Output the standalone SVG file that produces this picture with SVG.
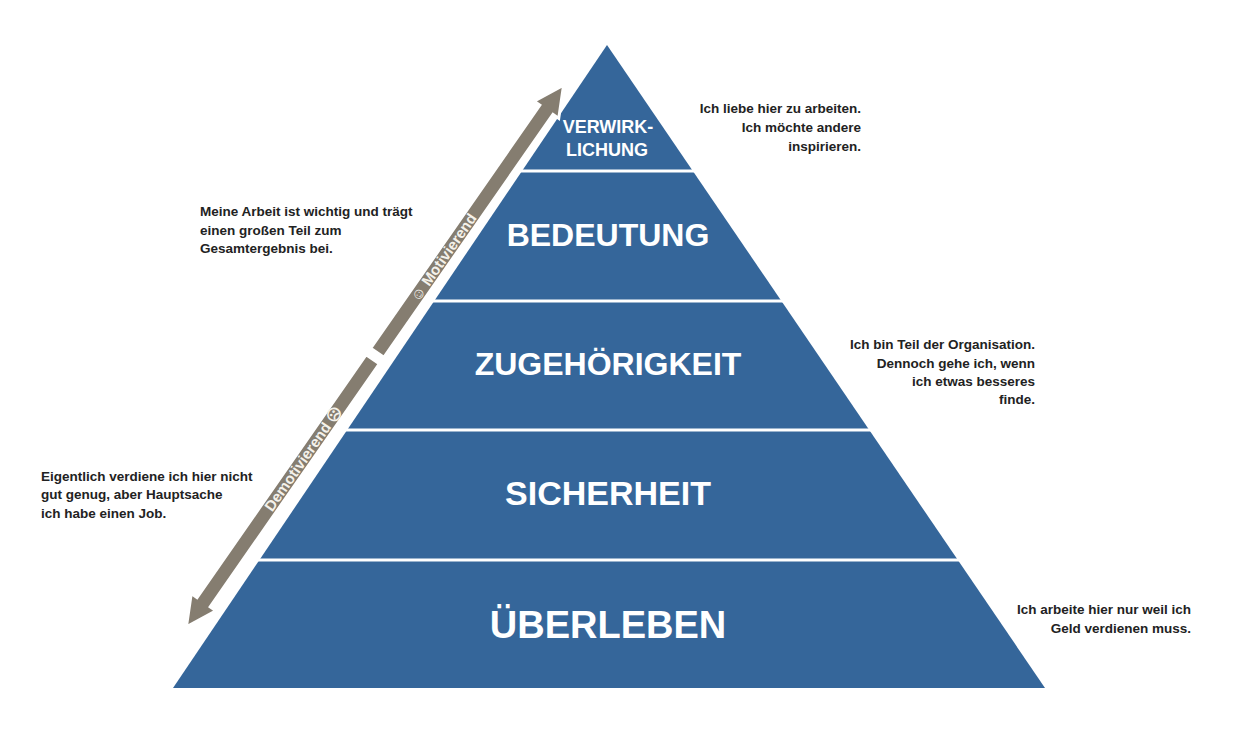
<svg xmlns="http://www.w3.org/2000/svg" width="1238" height="748" viewBox="0 0 1238 748">
<style>
.lay{fill:#35669a}
.sep{stroke:#fff;stroke-width:3}
.big{font-family:"Liberation Sans",Arial,sans-serif;font-weight:bold;fill:#fff;text-anchor:middle}
.note{font-family:"Liberation Sans",Arial,sans-serif;font-weight:bold;font-size:13.5px;fill:#222}
.r{text-anchor:end}
.arr{fill:#857d70;stroke:#fff;stroke-width:3}
.al{font-family:"Liberation Sans",Arial,sans-serif;font-weight:bold;font-size:15px;fill:#f4f1ea;text-anchor:middle}
</style>
<rect width="1238" height="748" fill="#fff"/>
<g id="pyramid">
<polygon class="lay" points="607,45 173,688 1045,688"/>
<line class="sep" x1="520" y1="171" x2="695" y2="171"/>
<line class="sep" x1="432" y1="301" x2="783" y2="301"/>
<line class="sep" x1="345" y1="430" x2="871" y2="430"/>
<line class="sep" x1="257" y1="560" x2="960" y2="560"/>
</g>
<g id="n-verwirklichung"><text class="big" x="608" y="133" font-size="18">VERWIRK-</text><text class="big" x="607" y="156" font-size="18">LICHUNG</text></g>
<g id="n-bedeutung"><text class="big" x="608" y="246" font-size="32">BEDEUTUNG</text></g>
<g id="n-zugehoerigkeit"><text class="big" x="608" y="375" font-size="32">ZUGEHÖRIGKEIT</text></g>
<g id="n-sicherheit"><text class="big" x="608" y="505" font-size="34">SICHERHEIT</text></g>
<g id="n-ueberleben"><text class="big" x="608" y="638" font-size="38">ÜBERLEBEN</text></g>
<g id="connectors">
<g transform="translate(375,356) rotate(-55.15)">
<polygon class="arr" points="4,-8 300,-8 300,-15 330,0 300,15 300,8 4,8"/>
<polygon class="arr" points="-4,-8 -300,-8 -300,-15 -330,0 -300,15 -300,8 -4,8"/>
<text class="al" x="120" y="5">☺ Motivierend</text>
<text class="al" x="-125" y="5">Demotivierend ☹</text>
</g>
</g>
<g id="notes">
<text class="note r" x="861" y="113">Ich liebe hier zu arbeiten.</text>
<text class="note r" x="861" y="132">Ich möchte andere</text>
<text class="note r" x="861" y="151">inspirieren.</text>
<text class="note" x="200" y="216">Meine Arbeit ist wichtig und trägt</text>
<text class="note" x="200" y="235">einen großen Teil zum</text>
<text class="note" x="200" y="253">Gesamtergebnis bei.</text>
<text class="note r" x="1035" y="349">Ich bin Teil der Organisation.</text>
<text class="note r" x="1035" y="368">Dennoch gehe ich, wenn</text>
<text class="note r" x="1035" y="386">ich etwas besseres</text>
<text class="note r" x="1035" y="404">finde.</text>
<text class="note" x="41" y="481">Eigentlich verdiene ich hier nicht</text>
<text class="note" x="41" y="499">gut genug, aber Hauptsache</text>
<text class="note" x="41" y="518">ich habe einen Job.</text>
<text class="note r" x="1191" y="614">Ich arbeite hier nur weil ich</text>
<text class="note r" x="1191" y="633">Geld verdienen muss.</text>
</g>
</svg>
